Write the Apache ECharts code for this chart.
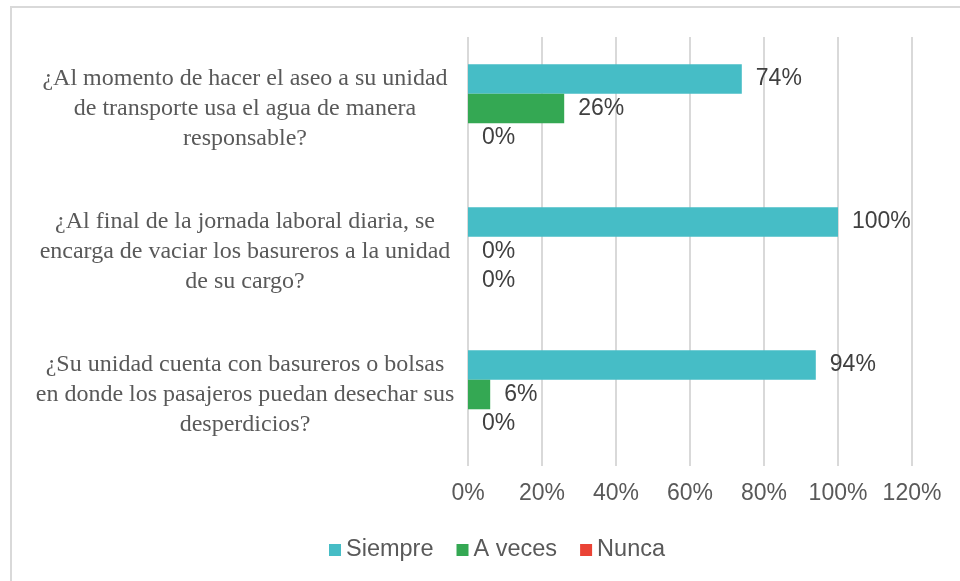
<!DOCTYPE html>
<html>
<head>
<meta charset="utf-8">
<script src="https://cdn.jsdelivr.net/npm/echarts@6/dist/echarts.min.js"></script>
<style>
  html, body { margin: 0; padding: 0; background: #fff; }
  #chart { width: 960px; height: 581px; }
</style>
</head>
<body>
<div id="chart"></div>
<script>
// preguntas, de arriba a abajo
const preguntas = [
    '¿Al momento de hacer el aseo a su unidad\nde transporte usa el agua de manera\nresponsable?',
    '¿Al final de la jornada laboral diaria, se\nencarga de vaciar los basureros a la unidad\nde su cargo?',
    '¿Su unidad cuenta con basureros o bolsas\nen donde los pasajeros puedan desechar sus\ndesperdicios?'
];
const siempre = [74, 100, 94];
const aVeces = [26, 0, 6];
const nunca = [0, 0, 0];
const ticksX = [0, 20, 40, 60, 80, 100, 120];

const colores = ['#46BDC6', '#34A853', '#EA4335'];
const sans = '"Liberation Sans", Arial, sans-serif';

const chart = echarts.init(document.getElementById('chart'));

const makeSerie = (name, data) => ({
    name: name,
    type: 'bar',
    data: data,
    barGap: '0%',
    barCategoryGap: '38%',
    label: {
        show: true,
        position: 'right',
        distance: 14,
        formatter: '{c}%',
        color: '#404040',
        fontFamily: sans,
        fontSize: 23
    }
});

chart.setOption({
    backgroundColor: '#fff',
    color: colores,
    animation: false,
    graphic: [{
        type: 'rect',
        shape: { x: 11, y: 7, width: 1000, height: 700 },
        style: { fill: 'none', stroke: '#d9d9d9', lineWidth: 2 },
        silent: true
    }],
    grid: { left: 468, right: 48, top: 37, bottom: 115 },
    legend: {
        left: 324,
        top: 533,
        icon: 'rect',
        itemWidth: 12,
        itemHeight: 12,
        itemGap: 23,
        textStyle: { fontFamily: sans, fontSize: 23.5, color: '#595959' },
        data: ['Siempre', 'A veces', 'Nunca']
    },
    xAxis: {
        type: 'value',
        min: ticksX[0],
        max: ticksX[ticksX.length - 1],
        interval: 20,
        axisLine: { show: false },
        axisTick: { show: false },
        splitLine: { lineStyle: { color: '#d9d9d9', width: 2 } },
        axisLabel: {
            formatter: '{value}%',
            margin: 16,
            color: '#595959',
            fontFamily: sans,
            fontSize: 23
        }
    },
    yAxis: {
        type: 'category',
        inverse: true,
        data: preguntas,
        axisLine: { show: false },
        axisTick: { show: false },
        axisLabel: {
            align: 'center',
            margin: 223,
            padding: [6, 0, 0, 0],
            color: '#595959',
            fontFamily: '"Liberation Serif", "Times New Roman", serif',
            fontSize: 24,
            lineHeight: 30
        }
    },
    series: [
        makeSerie('Siempre', siempre),
        makeSerie('A veces', aVeces),
        makeSerie('Nunca', nunca)
    ]
});
</script>
</body>
</html>
